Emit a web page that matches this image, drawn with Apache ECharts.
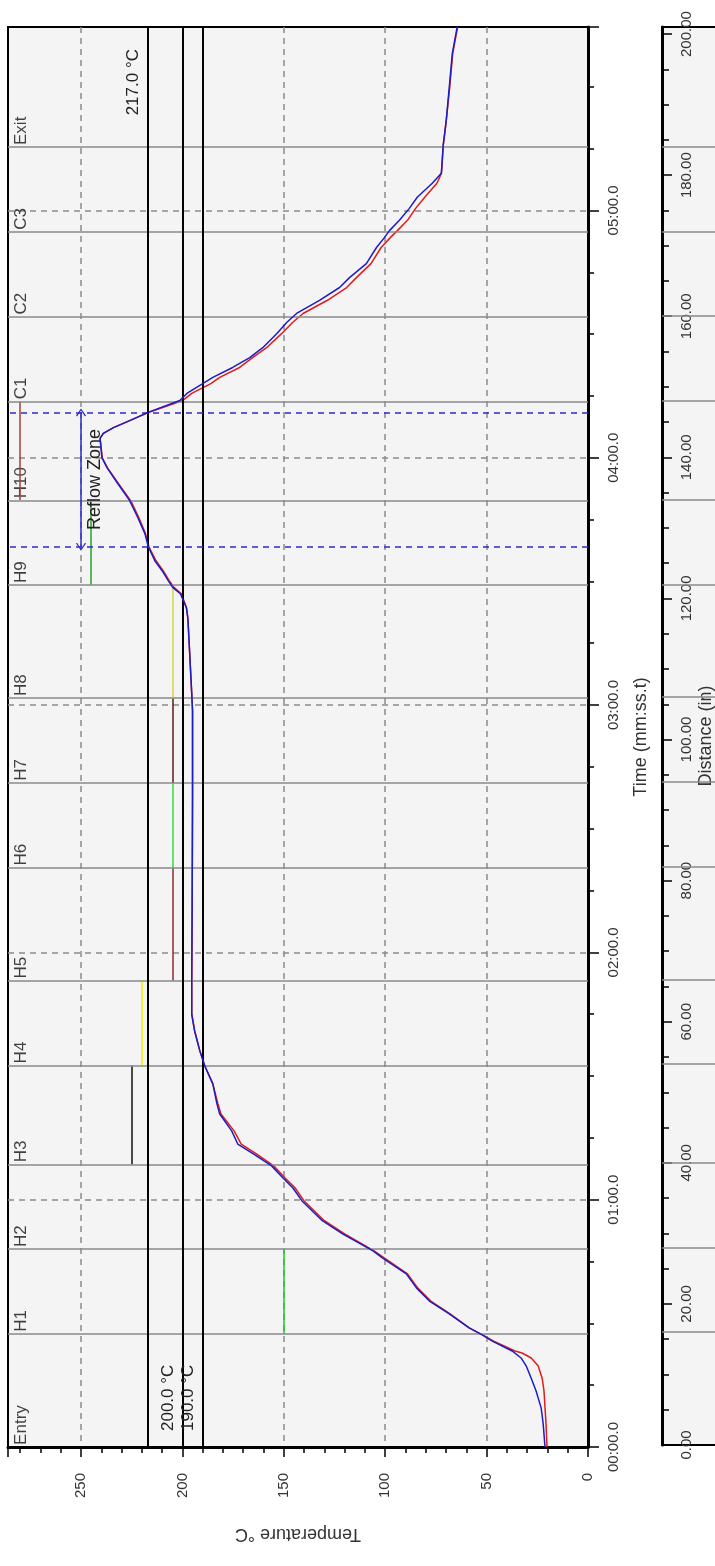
<!DOCTYPE html>
<html>
<head>
<meta charset="utf-8">
<script src="https://cdn.jsdelivr.net/npm/echarts@6/dist/echarts.min.js"></script>
<style>
  html, body { margin: 0; padding: 0; background: #fff; }
  #chart { width: 715px; height: 1566px; }
</style>
</head>
<body>
<div id="chart"></div>
<script>
// thermocouple 1 (blue): time in s, temperature in °C
const blueTime = [0, 5.6, 9.5, 13.6, 16.7, 19.7, 21.6, 23.3, 25.7, 27.2, 28.9, 32.3, 35.4, 38.6, 42, 45.9, 47.6, 51.7, 54.9, 59.7, 62.9, 65.3, 68.2, 71.1, 73.5, 76.7, 80.8, 83.3, 88.1, 92.5, 96.1, 101, 105, 113, 130, 158.5, 178.6, 182.8, 192.5, 201, 203.6, 207, 208.5, 210.2, 212.6, 215, 218.4, 221.6, 225.5, 229.6, 233.7, 237.6, 240, 244.7, 245.9, 247.3, 249, 251, 253.9, 255.6, 258, 259.5, 261.9, 264.3, 266.7, 270.1, 272.8, 275, 278.2, 281.3, 283.7, 287.1, 291, 293.4, 295.1, 297.6, 300.5, 303.2, 306.6, 309, 311.4, 315.8, 321.8, 329.9, 338.1, 344.5]
const blueTemp = [21.2, 22.1, 23.1, 25.6, 28, 30.5, 33, 37.4, 47.2, 52.2, 58.6, 68.4, 78.2, 84.6, 89.6, 101.4, 106, 121, 131, 141, 145.6, 150.5, 156, 165, 172.7, 175.7, 181.6, 183, 185, 189, 191.4, 194, 195.4, 195.4, 195.2, 195, 195, 195.4, 196.4, 197.3, 198, 201, 204.7, 207, 210, 213.6, 216.8, 218.5, 222, 226, 231.8, 237.2, 239.7, 240.6, 239, 234, 226, 217, 201.3, 197.8, 190, 185, 175.2, 166.8, 160.4, 153.5, 148.6, 143.7, 132.4, 122.5, 117.6, 109.3, 104.3, 100.4, 97.9, 93, 88.1, 84.2, 76.8, 72.3, 72, 71.4, 69.9, 68.4, 66.9, 64.5]

// thermocouple 2 (red)
const redTime = [0, 5.6, 13.6, 16.7, 19.7, 21.6, 22.8, 23.3, 25.7, 27.2, 28.9, 32.3, 35.4, 38.6, 42, 45.9, 47.6, 51.7, 54.9, 59.7, 62.9, 65.3, 68.2, 71.1, 73.5, 76.7, 80.8, 83.3, 88.1, 92.5, 96.1, 101, 105, 113, 130, 158.5, 178.6, 182.8, 192.5, 201, 203.6, 207, 208.5, 210.2, 212.6, 215, 218.4, 221.6, 225.5, 229.6, 233.7, 237.6, 240, 244.7, 245.9, 247.3, 249, 251, 253.9, 255.6, 258, 259.5, 261.9, 264.3, 266.7, 270.1, 272.8, 275, 278.2, 281.3, 283.7, 287.1, 291, 293.4, 295.1, 297.6, 300.5, 303.2, 306.6, 309, 311.4, 315.8, 321.8, 329.9, 338.1, 344.5]
const redTemp = [20.2, 20.7, 21.7, 22.6, 24.6, 28, 32.5, 36, 46.5, 52, 58.6, 68, 77.5, 84, 89, 100.5, 105.5, 120, 130, 140, 144.5, 149.5, 155, 163.5, 171, 174.5, 181, 182.5, 185, 189, 191.4, 194, 195.4, 195.4, 195.2, 195, 195, 195.4, 196.4, 197.3, 198, 200.5, 204, 206.5, 209.5, 213, 216.5, 218.2, 221.5, 225.5, 231.5, 237, 239.5, 240.6, 239, 234, 226, 216.5, 199.8, 195.4, 186, 181.6, 171.8, 165.4, 158.5, 151.1, 145.7, 140.5, 128.5, 119, 114.2, 107, 102, 97.5, 94, 89, 85, 80.5, 74.5, 72.3, 71.9, 71.4, 69.9, 68.2, 66.7, 64.3]

// oven zones, start position in inches
const zoneNames = ['Entry', 'H1', 'H2', 'H3', 'H4', 'H5', 'H6', 'H7', 'H8', 'H9', 'H10', 'C1', 'C2', 'C3', 'Exit']
const zoneStart = [0, 16, 28, 40, 54, 66, 82, 94, 106, 122, 134, 148, 160, 172, 184]

// zone set points shown as short bars
const setZones = ['H1', 'H3', 'H4', 'H5', 'H6', 'H7', 'H8', 'H9', 'H10']
const setTemps = [150, 225, 220, 205, 205, 205, 205, 245, 280]

// limit lines and reflow window
const limitTemps = [217, 200, 190]
const reflowTimes = [218.4, 251]
const reflowArrowTemp = 250

const tempMax = 286
const timeMax = 344.5
const distMax = 201

const setColors = ['#22c822', '#111111', '#f2f200', '#8e2e2e', '#3ad83a', '#5a1c1c', '#d6d64a', '#22a822', '#a3413b']
const FONT = 'Liberation Sans, Arial, sans-serif'
const GRID_LINE = '#8a8a8a'

function fmtTime(v) {
  const m = Math.floor(v / 60 + 1e-9)
  const s = v - m * 60
  return String(m).padStart(2, '0') + ':' + s.toFixed(1).padStart(4, '0')
}

const pairs = (ts, vs) => ts.map((t, i) => [vs[i], t])

const chart = echarts.init(document.getElementById('chart'))

const setLines = setZones.map((z, i) => {
  const k = zoneNames.indexOf(z)
  return {
    coords: [[setTemps[i], zoneStart[k]], [setTemps[i], zoneStart[k + 1]]],
    lineStyle: { color: setColors[i] }
  }
})

const chevron = 'path://M0,0 L7,9 L5.6,10 L0,2.6 L-5.6,10 L-7,9 Z'

let option = {
  animation: false,
  backgroundColor: '#fff',
  textStyle: { fontFamily: FONT },
  grid: [
    { left: 8, right: 127, top: 27, bottom: 119, show: true, backgroundColor: '#f4f4f4', borderColor: '#000', borderWidth: 2, outerBoundsMode: 'none' },
    { left: 662, width: 70, top: 27, bottom: 121, show: true, backgroundColor: '#f4f4f4', borderColor: '#000', borderWidth: 2, outerBoundsMode: 'none' }
  ],
  xAxis: [
    {
      type: 'value', gridIndex: 0, min: 0, max: tempMax, interval: 50, inverse: true, position: 'bottom',
      axisLine: { show: true, onZero: false, lineStyle: { color: '#000', width: 3 } },
      axisTick: { show: true, length: 10, lineStyle: { color: '#000', width: 1.5 } },
      minorTick: { show: true, splitNumber: 5, length: 6, lineStyle: { color: '#000', width: 1.5 } },
      axisLabel: { rotate: 90, margin: 26, fontSize: 15, color: '#333', fontFamily: FONT, showMaxLabel: false },
      splitLine: { show: true, showMinLine: false, showMaxLine: false, lineStyle: { color: GRID_LINE, type: [6, 5], width: 1.5 } },
      name: 'Temperature °C', nameLocation: 'middle', nameGap: 78, nameRotate: 180,
      nameTextStyle: { fontSize: 18, color: '#333', fontFamily: FONT }
    },
    { type: 'value', gridIndex: 1, min: 0, max: 1, show: false }
  ],
  yAxis: [
    {
      type: 'value', gridIndex: 0, min: 0, max: timeMax, interval: 60, position: 'right',
      axisLine: { show: true, onZero: false, lineStyle: { color: '#000', width: 3 } },
      axisTick: { show: true, length: 11, lineStyle: { color: '#000', width: 1.5 } },
      minorTick: { show: true, splitNumber: 4, length: 6, lineStyle: { color: '#000', width: 1.5 } },
      axisLabel: { rotate: 90, margin: 18, fontSize: 15, color: '#333', fontFamily: FONT, formatter: fmtTime, showMaxLabel: false },
      splitLine: { show: true, showMinLine: false, showMaxLine: false, lineStyle: { color: GRID_LINE, type: [6, 5], width: 1.5 } },
      name: 'Time (mm:ss.t)', nameLocation: 'middle', nameGap: 44, nameMoveOverlap: false,
      nameTextStyle: { fontSize: 18, color: '#333', fontFamily: FONT }
    },
    { type: 'value', gridIndex: 0, min: 0, max: distMax, show: false },
    {
      type: 'value', gridIndex: 1, min: 0, max: distMax, interval: 20, position: 'left',
      axisLine: { show: true, onZero: false, lineStyle: { color: '#000', width: 3 } },
      axisTick: { show: true, inside: true, length: 10, lineStyle: { color: '#000', width: 1.5 } },
      minorTick: { show: true, splitNumber: 4, length: 7, lineStyle: { color: '#000', width: 1.5 } },
      axisLabel: { inside: true, rotate: 90, margin: 17, fontSize: 15, color: '#333', fontFamily: FONT, showMaxLabel: false,
        formatter: v => v.toFixed(2) },
      splitLine: { show: false },
      name: 'Distance (in)', nameLocation: 'middle', nameGap: -53, nameMoveOverlap: false,
      nameTextStyle: { fontSize: 18, color: '#333', fontFamily: FONT }
    }
  ],
  series: [
    {
      // zone names + zone boundaries in the profile plot
      type: 'scatter', xAxisIndex: 0, yAxisIndex: 1, z: 2,
      symbol: 'circle', symbolSize: 1, itemStyle: { color: 'transparent' },
      data: zoneNames.map((n, i) => ({ name: n, value: [tempMax - 6.5, zoneStart[i] + 0.3] })),
      label: { show: true, formatter: '{b}', position: 'right', distance: 0, rotate: 90, align: 'left', verticalAlign: 'middle',
        fontSize: 17, color: '#111', fontFamily: FONT },
      markLine: {
        silent: true, symbol: 'none', label: { show: false },
        lineStyle: { color: GRID_LINE, type: 'solid', width: 1.5 },
        data: zoneStart.slice(1).map(d => ({ yAxis: d }))
      }
    },
    {
      // zone boundaries in the distance strip
      type: 'line', xAxisIndex: 1, yAxisIndex: 2, z: 2, symbol: 'none',
      lineStyle: { opacity: 0 },
      data: zoneStart.map(d => [0, d]),
      markLine: {
        silent: true, symbol: 'none', label: { show: false },
        lineStyle: { color: GRID_LINE, type: 'solid', width: 1.5 },
        data: zoneStart.slice(1).map(d => ({ yAxis: d }))
      }
    },
    {
      type: 'lines', coordinateSystem: 'cartesian2d', xAxisIndex: 0, yAxisIndex: 1, z: 3,
      lineStyle: { width: 1.5, opacity: 1 },
      data: setLines
    },
    {
      name: 'TC2', type: 'line', xAxisIndex: 0, yAxisIndex: 0, z: 4,
      symbol: 'none', lineStyle: { color: '#e01c1c', width: 1.5 },
      data: pairs(redTime, redTemp),
      markLine: {
        silent: true, symbol: 'none', precision: 1,
        lineStyle: { color: '#000', type: 'solid', width: 2 },
        label: { fontSize: 17, color: '#222', fontFamily: FONT },
        data: limitTemps.map((t, i) => ({
          xAxis: t,
          label: {
            formatter: t.toFixed(1) + ' °C',
            position: i === 0 ? 'insideEndTop' : 'insideStartTop',
            distance: i === 0 ? [22, 6] : [16, 6]
          }
        }))
      }
    },
    {
      name: 'TC1', type: 'line', xAxisIndex: 0, yAxisIndex: 0, z: 5,
      symbol: 'none', lineStyle: { color: '#1c1cc8', width: 1.5 },
      data: pairs(blueTime, blueTemp),
      markLine: {
        silent: true, symbol: ['none', 'none'],
        data: [
          ...reflowTimes.map(t => ({ yAxis: t, label: { show: false },
            lineStyle: { color: '#2a2ac8', type: [6, 5], width: 1.5 } })),
          [
            { coord: [reflowArrowTemp, reflowTimes[0]], symbol: chevron, symbolSize: [10, 8] },
            { coord: [reflowArrowTemp, reflowTimes[1]], symbol: chevron, symbolSize: [10, 8] }
          ]
        ],
        lineStyle: { color: '#2a2ac8', type: 'solid', width: 1.5 },
        label: { show: true, formatter: 'Reflow Zone', position: 'insideMiddleBottom', distance: 5,
          fontSize: 18, color: '#222', fontFamily: FONT }
      }
    }
  ]
}

chart.setOption(option)
</script>
</body>
</html>
